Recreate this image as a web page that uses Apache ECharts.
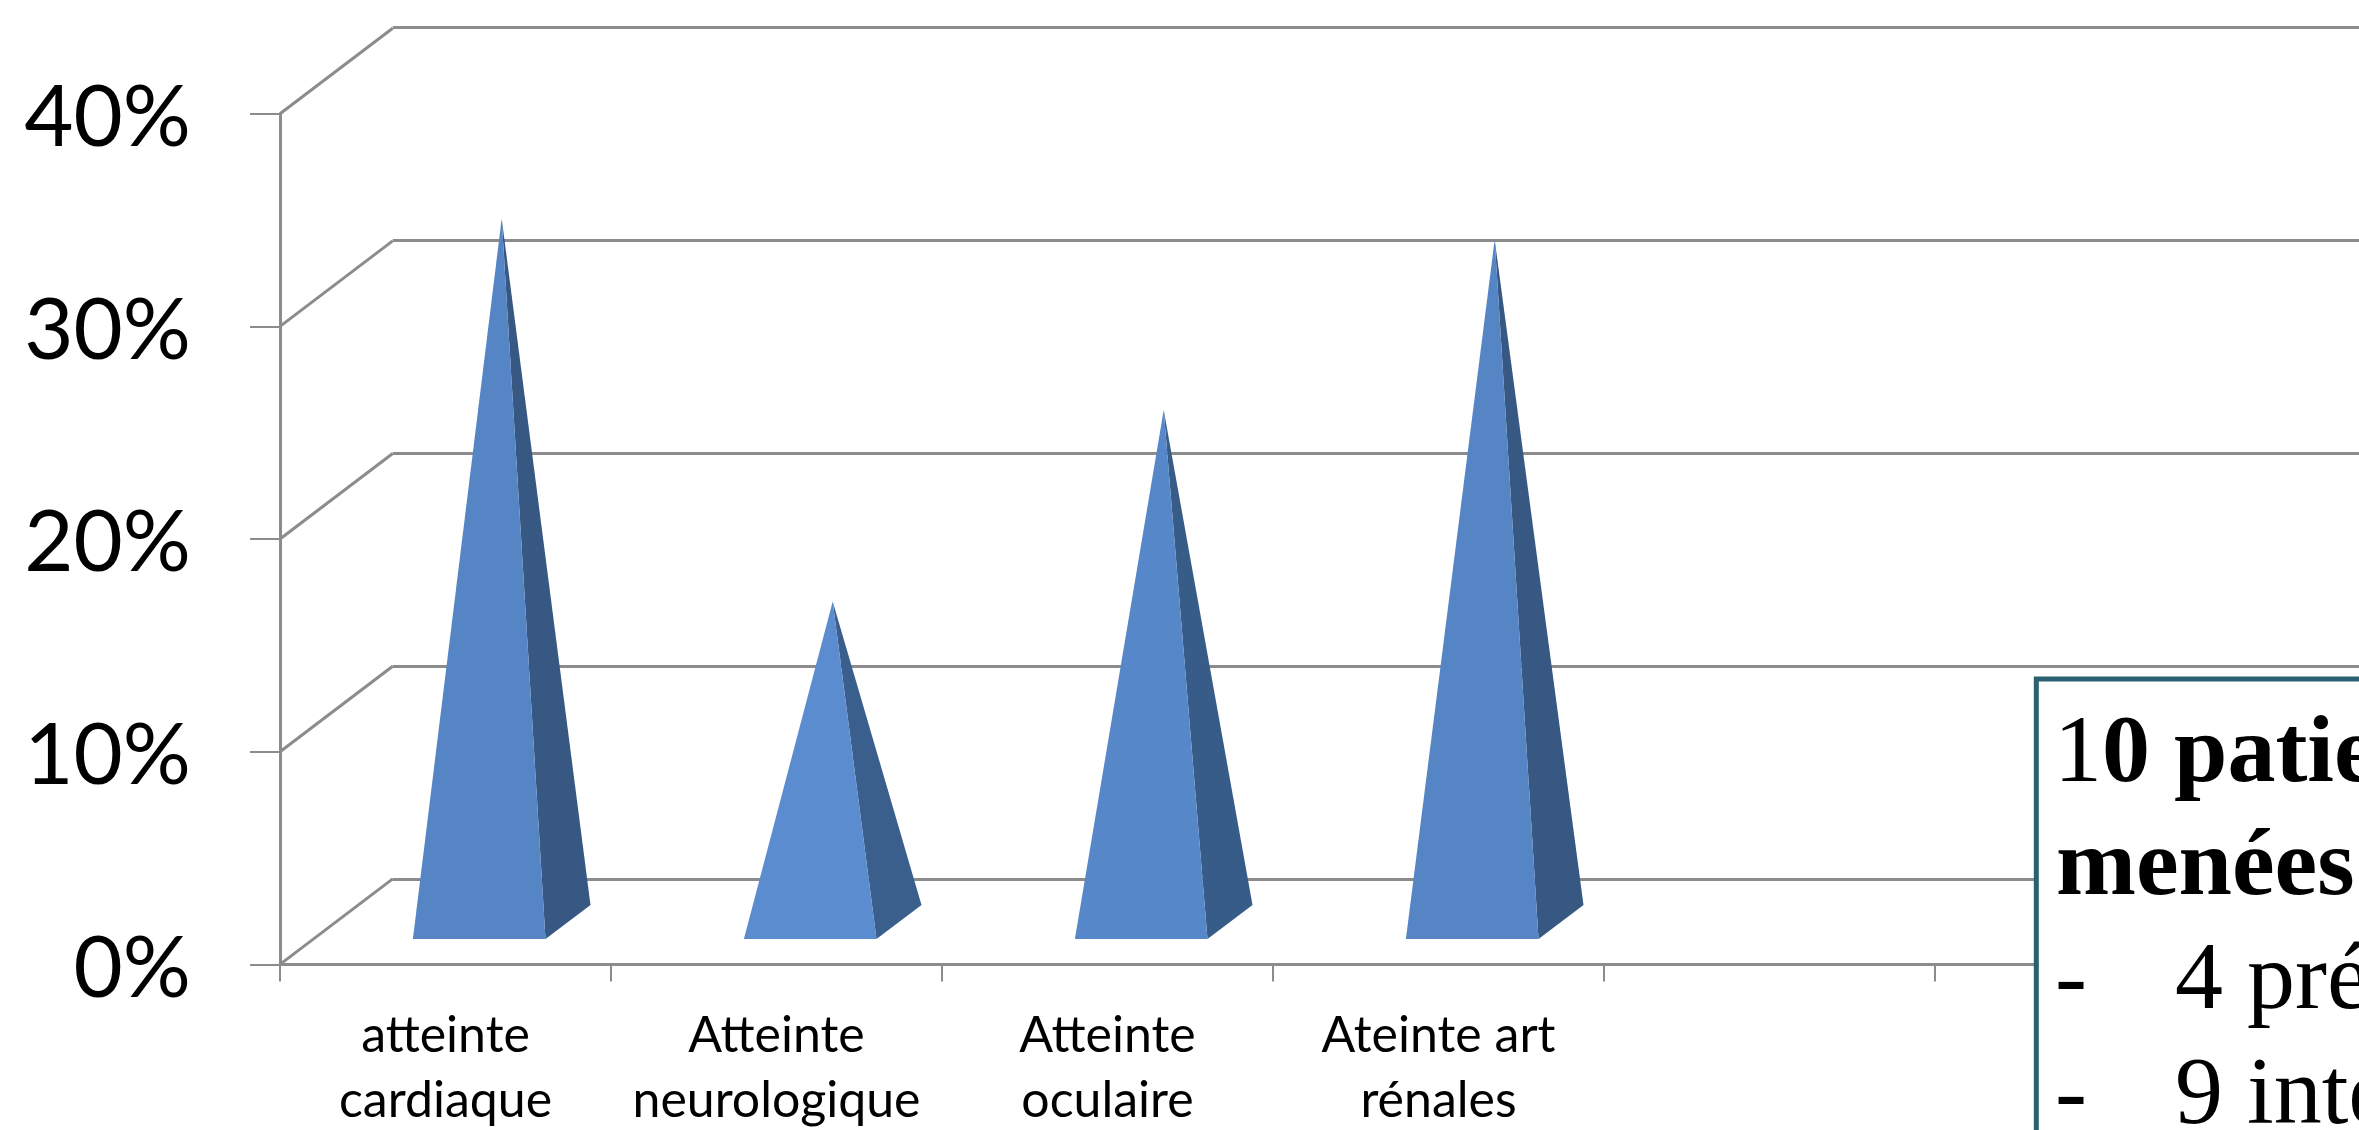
<!DOCTYPE html>
<html>
<head>
<meta charset="utf-8">
<title>Atteintes</title>
<script src="https://cdn.jsdelivr.net/npm/echarts@6/dist/echarts.min.js"></script>
<style>
html,body{margin:0;padding:0;background:#fff;overflow:hidden}
#chart{width:2359px;height:1130px}
</style>
</head>
<body>
<div id="chart"></div>
<script>
// Share of patients per type of involvement, in percent
const categories = ['atteinte\ncardiaque', 'Atteinte\nneurologique', 'Atteinte\noculaire', 'Ateinte art\nrénales', '', ''];
const values = [33, 15, 24, 32];
const axisTicks = [0, 10, 20, 30, 40];
const frontFaces = ['#5585c5', '#5b8ccf', '#5687c9', '#5585c5'];
const sideFaces = ['#365883', '#3a5f8c', '#385c88', '#365883'];

const AXIS = '#8c8c8c';
const CHART_FONT = 'Lato';
// Oblique projection of the floor: horizontal and vertical shift of the back wall
const DEPTH_X = 112.7;
const DEPTH_Y = 85.5;

const chart = echarts.init(document.getElementById('chart'), null, {renderer: 'canvas'});

function renderPyramid(params, api) {
  const idx = api.value(0);
  const bottom = api.coord([idx, 0]);
  const top = api.coord([idx, api.value(1)]);
  const half = 66.3;
  const frontX = bottom[0] + 33.7;
  const fl = [frontX - half, bottom[1] - 25.3];
  const fr = [frontX + half, bottom[1] - 25.3];
  const br = [fr[0] + 45, fr[1] - 34];
  const apex = [bottom[0] + 56.2, top[1] - 44];
  return {
    type: 'group',
    children: [
      {type: 'polygon', shape: {points: [apex, fr, br]}, style: {fill: sideFaces[idx]}},
      {type: 'polygon', shape: {points: [apex, fl, fr]}, style: {fill: frontFaces[idx]}}
    ]
  };
}

function renderFloorEdge(params, api) {
  const tick = api.value(0);
  const p = api.coord([0, tick]);
  const x = p[0] - api.size([1, 0])[0] / 2;
  return {
    type: 'line',
    shape: {x1: x, y1: p[1], x2: x + DEPTH_X, y2: p[1] - DEPTH_Y},
    style: {stroke: AXIS, lineWidth: 3}
  };
}

const SERIF = 'Liberation Serif';
const boxText = (x, baseline, text, weight) => ({
  type: 'text', x, y: baseline - 72, z: 101,
  style: {
    text, fill: '#000', textBaseline: 'middle',
    font: weight + ' 96px "' + SERIF + '"'
  }
});

chart.setOption({
  animation: false,
  backgroundColor: '#fff',
  grid: [
    {left: 280, top: 113.7, width: 1986, height: 850.7, outerBoundsMode: 'none'},
    {left: 392.7, top: 27, width: 1986, height: 852, outerBoundsMode: 'none'}
  ],
  xAxis: [
    {
      type: 'category', gridIndex: 0, data: categories,
      axisLine: {lineStyle: {color: AXIS, width: 3}},
      axisTick: {show: true, length: 17, lineStyle: {color: AXIS, width: 2}},
      axisLabel: {
        interval: 0, margin: 39, color: '#000',
        fontFamily: CHART_FONT, fontSize: 50, lineHeight: 65
      }
    },
    {
      type: 'category', gridIndex: 1, data: categories,
      axisLine: {show: false}, axisTick: {show: false}, axisLabel: {show: false}
    }
  ],
  yAxis: [
    {
      type: 'value', gridIndex: 0, min: 0, max: 40, interval: 10,
      axisLine: {show: true, lineStyle: {color: AXIS, width: 3}},
      axisTick: {show: true, length: 30, lineStyle: {color: AXIS, width: 2}},
      splitLine: {show: false},
      axisLabel: {
        formatter: '{value}%', margin: 89, color: '#000',
        fontFamily: CHART_FONT, fontSize: 85, verticalAlign: 'top', lineHeight: 10
      }
    },
    {
      type: 'value', gridIndex: 1, min: 0, max: 40, interval: 10,
      axisLine: {show: false}, axisTick: {show: false}, axisLabel: {show: false},
      splitLine: {show: true, lineStyle: {color: AXIS, width: 3}}
    }
  ],
  series: [
    {
      type: 'custom', xAxisIndex: 0, yAxisIndex: 0, silent: true, clip: false,
      data: axisTicks.map(t => [t]),
      encode: {y: 0},
      renderItem: renderFloorEdge
    },
    {
      type: 'custom', xAxisIndex: 0, yAxisIndex: 0, silent: true, clip: false,
      data: values.map((v, i) => [i, v]),
      encode: {x: 0, y: 1},
      renderItem: renderPyramid
    }
  ],
  graphic: [
    {
      type: 'rect', z: 100,
      shape: {x: 2036.3, y: 679, width: 420, height: 500},
      style: {fill: '#fff', stroke: '#2b6070', lineWidth: 5}
    },
    boxText(2054, 780, '1', 'normal'),
    boxText(2102, 780, '0 patie', 'bold'),
    boxText(2056, 893, 'menées', 'bold'),
    boxText(2055, 1007, '-', 'normal'),
    boxText(2175, 1007, '4 pré', 'normal'),
    boxText(2055, 1122, '-', 'normal'),
    boxText(2175, 1122, '9 inte', 'normal')
  ]
});
</script>
</body>
</html>
